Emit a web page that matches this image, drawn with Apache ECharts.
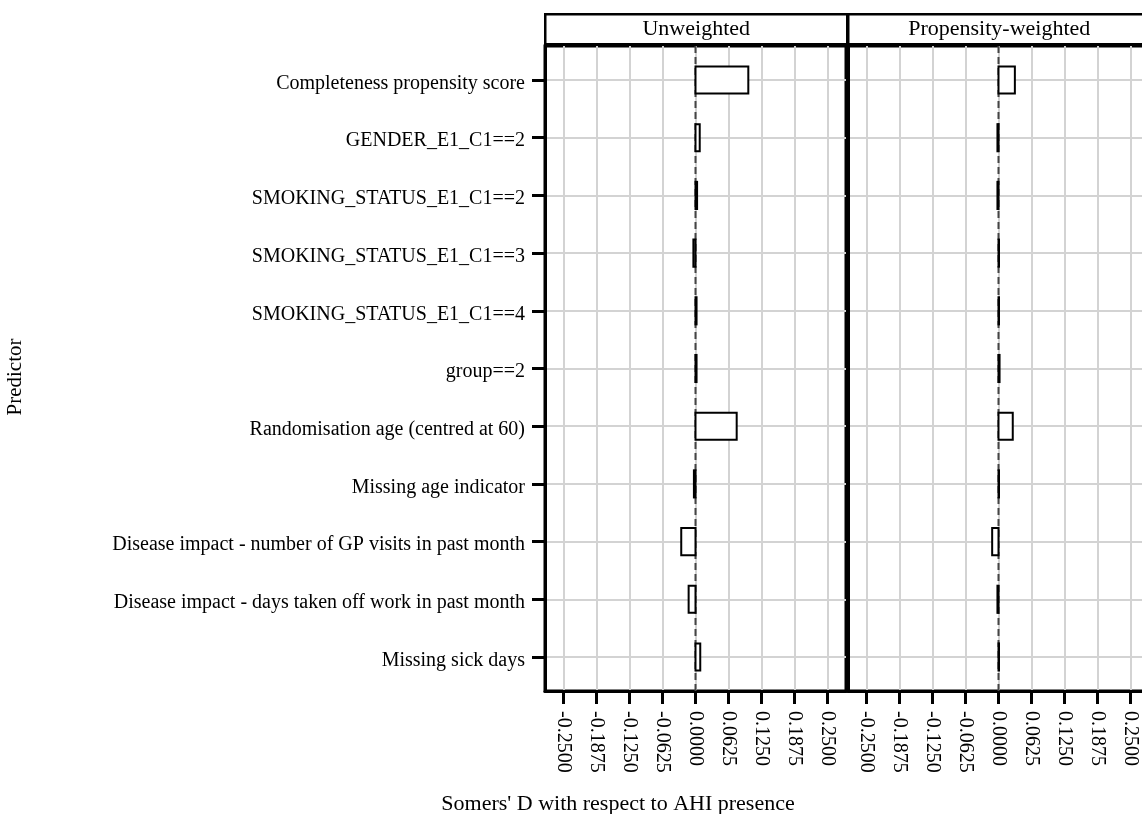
<!DOCTYPE html>
<html>
<head>
<meta charset="utf-8">
<script src="https://cdn.jsdelivr.net/npm/echarts@6/dist/echarts.min.js"></script>
<style>
html,body{margin:0;padding:0;overflow:hidden;background:#fff;}
#chart{width:1160px;height:814px;}
</style>
</head>
<body>
<div id="chart"></div>
<script>
const categories = [
  'Completeness propensity score',
  'GENDER_E1_C1==2',
  'SMOKING_STATUS_E1_C1==2',
  'SMOKING_STATUS_E1_C1==3',
  'SMOKING_STATUS_E1_C1==4',
  'group==2',
  'Randomisation age (centred at 60)',
  'Missing age indicator',
  'Disease impact - number of GP visits in past month',
  'Disease impact - days taken off work in past month',
  'Missing sick days'
];
const unweighted = [0.100, 0.008, 0.003, -0.004, 0.002, 0.002, 0.078, -0.003, -0.027, -0.013, 0.009];
const weighted   = [0.031, -0.002, -0.002, 0.001, 0.001, 0.002, 0.027, 0.001, -0.012, -0.002, 0.001];
const panelTitles = ['Unweighted', 'Propensity-weighted'];
const xTicks = [-0.25, -0.1875, -0.125, -0.0625, 0, 0.0625, 0.125, 0.1875, 0.25];
const rowIdx = categories.map((c, i) => i + 1);

const FONT = '"Liberation Serif", "Times New Roman", serif';

const chart = echarts.init(document.getElementById('chart'));

function renderBar(params, api) {
  const v = api.value(0), r = api.value(1);
  const p0 = api.coord([0, r - 0.235]);
  const p1 = api.coord([v, r + 0.235]);
  return {
    type: 'rect',
    shape: {
      x: Math.min(p0[0], p1[0]), y: Math.min(p0[1], p1[1]),
      width: Math.abs(p1[0] - p0[0]), height: Math.abs(p1[1] - p0[1])
    },
    style: { fill: '#fff', stroke: '#000', lineWidth: 2 }
  };
}

const grids = [
  { left: 545, top: 46, width: 301, height: 645 },
  { left: 848, top: 46, width: 301, height: 645 }
].map(g => Object.assign(g, { show: true, borderColor: '#000', borderWidth: 3, backgroundColor: '#fff' }));

const xAxes = [0, 1].map(i => ({
  type: 'value', gridIndex: i, min: -0.285, max: 0.285,
  axisLine: { show: true, onZero: false, lineStyle: { color: '#000', width: 3 } },
  axisTick: { show: true, customValues: xTicks, length: 13, lineStyle: { color: '#000', width: 3 } },
  axisLabel: {
    customValues: xTicks, rotate: -90, margin: 20,
    formatter: v => v.toFixed(4),
    fontFamily: FONT, fontSize: 20, color: '#000'
  },
  splitLine: { show: true, lineStyle: { color: '#d3d3d3', width: 2 } }
}));

const yAxes = [0, 1].map(i => ({
  type: 'value', gridIndex: i, min: 0.41, max: 11.59, inverse: true,
  axisLine: { show: true, onZero: false, lineStyle: { color: '#000', width: 3 } },
  axisTick: { show: i === 0, customValues: rowIdx, length: 13, lineStyle: { color: '#000', width: 3 } },
  axisLabel: {
    show: i === 0, customValues: rowIdx, margin: 20,
    formatter: v => '{a|' + (categories[Math.round(v) - 1] || '') + '}',
    rich: { a: { fontFamily: FONT, fontSize: 20, color: '#000', padding: [7, 0, 0, 0] } },
    fontFamily: FONT, fontSize: 20, color: '#000'
  },
  splitLine: { show: true, lineStyle: { color: '#d3d3d3', width: 2 } }
}));

const series = [];
[unweighted, weighted].forEach((vals, i) => {
  series.push({
    type: 'line', xAxisIndex: i, yAxisIndex: i, symbol: 'none', silent: true, z: 3,
    data: [[0, 0.41], [0, 11.59]],
    lineStyle: { color: '#444', width: 2, type: [7, 4] }
  });
  series.push({
    type: 'custom', xAxisIndex: i, yAxisIndex: i, z: 4, silent: true,
    renderItem: renderBar,
    data: vals.map((v, k) => [v, rowIdx[k]])
  });
});

const graphics = [];
grids.forEach((g, i) => {
  graphics.push({
    type: 'group', left: g.left - 1, top: 13,
    children: [
      { type: 'rect', shape: { x: 0, y: 0, width: g.width + 1, height: 30 }, style: { fill: '#fff', stroke: '#000', lineWidth: 2.5 } },
      { type: 'text', x: (g.width + 1) / 2, y: 15, style: { text: panelTitles[i], font: '22px ' + FONT, fill: '#000', align: 'center', verticalAlign: 'middle' } }
    ]
  });
});
graphics.push({ type: 'text', x: 618, y: 804, style: { text: "Somers' D with respect to AHI presence", font: '22px ' + FONT, fill: '#000', align: 'center', verticalAlign: 'middle' } });
graphics.push({ type: 'text', x: 15, y: 377, rotation: Math.PI / 2, style: { text: 'Predictor', font: '21px ' + FONT, fill: '#000', align: 'center', verticalAlign: 'middle' } });

chart.setOption({
  animation: false,
  grid: grids,
  xAxis: xAxes,
  yAxis: yAxes,
  series: series,
  graphic: graphics
});
</script>
</body>
</html>
